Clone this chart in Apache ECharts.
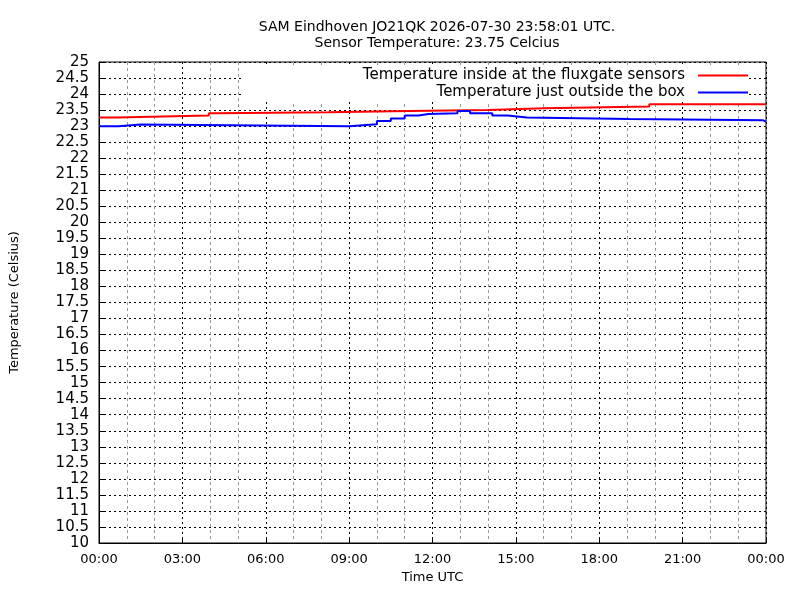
<!DOCTYPE html>
<html><head><meta charset="utf-8">
<script src="https://cdn.jsdelivr.net/npm/echarts@6/dist/echarts.min.js"></script>
<style>html,body{margin:0;background:#fff}#c{width:800px;height:600px}</style>
</head><body><div id="c"></div>
<script>
const insideHours = [0, 0.65, 3.95, 4.25, 8.25, 11.15, 14.0, 16.0, 19.8, 24];
const insideTemps = [23.27, 23.33, 23.40, 23.43, 23.47, 23.50, 23.56, 23.61, 23.68, 23.69];
const outsideHours = [0, 0.7, 1.5, 9.0, 10.0, 10.5, 11.0, 11.5, 11.85, 12.9, 13.35, 14.15, 14.7, 15.4, 19.1, 23.9, 24];
const outsideTemps = [23.0, 23.05, 23.0, 23.06, 23.16, 23.24, 23.33, 23.38, 23.40, 23.47, 23.40, 23.33, 23.27, 23.22, 23.18, 23.14, 23.14];
const seriesNames = ['Temperature inside at the fluxgate sensors', 'Temperature just outside the box'];
function steps(hs, vs) {
  const out = [];
  hs.forEach((h, i) => {
    if (i > 0) out.push([h, vs[i - 1]]);
    out.push([h, vs[i]]);
  });
  return out;
}
const F = 'DejaVu Sans';
const chart = echarts.init(document.getElementById('c'));
chart.setOption({
  animation: false,
  backgroundColor: '#fff',
  title: {
    text: 'SAM Eindhoven JO21QK 2026-07-30 23:58:01 UTC.\nSensor Temperature: 23.75 Celcius',
    left: 432, top: 14, textAlign: 'center',
    textStyle: {fontFamily: F, fontSize: 14, fontWeight: 'normal', color: '#000', lineHeight: 16}
  },
  legend: {
    orient: 'vertical', right: 52, top: 66, align: 'right',
    backgroundColor: '#fff', padding: [2, 0, 2, 120], itemGap: 2,
    itemWidth: 50, itemHeight: 2, icon: 'rect',
    textStyle: {fontFamily: F, fontSize: 15, color: '#000', padding: [0, 8, 0, 0]},
    data: seriesNames
  },
  grid: {left: 99, right: 34, top: 62, bottom: 57, show: true, borderColor: '#000', borderWidth: 1},
  xAxis: {
    type: 'value', min: 0, max: 24, interval: 3,
    name: 'Time UTC', nameLocation: 'middle', nameGap: 26,
    nameTextStyle: {fontFamily: F, fontSize: 13, color: '#000'},
    axisLine: {lineStyle: {color: '#000'}},
    axisTick: {inside: true, lineStyle: {color: '#000'}},
    axisLabel: {fontFamily: F, fontSize: 13, color: '#000', margin: 10,
      formatter: v => String(v % 24).padStart(2, '0') + ':00'},
    splitLine: {show: true, lineStyle: {color: '#000', type: [2, 3]}},
    minorTick: {show: false, splitNumber: 3},
    minorSplitLine: {show: true, lineStyle: {color: '#999', type: [3, 3]}}
  },
  yAxis: {
    type: 'value', min: 10, max: 25, interval: 0.5,
    name: 'Temperature (Celsius)', nameLocation: 'middle', nameGap: 78,
    nameTextStyle: {fontFamily: F, fontSize: 13, color: '#000'},
    axisLine: {show: true, lineStyle: {color: '#000'}},
    axisTick: {show: true, inside: true, lineStyle: {color: '#000'}},
    axisLabel: {fontFamily: F, fontSize: 15, color: '#000', margin: 10},
    splitLine: {show: true, lineStyle: {color: '#000', type: [2, 3]}}
  },
  series: [
    {name: seriesNames[0], type: 'line', showSymbol: false, z: 3,
     color: '#f00', lineStyle: {width: 2},
     data: steps(insideHours, insideTemps)},
    {name: seriesNames[1], type: 'line', showSymbol: false, z: 3,
     color: '#00f', lineStyle: {width: 2},
     data: steps(outsideHours, outsideTemps)}
  ]
});
</script></body></html>
